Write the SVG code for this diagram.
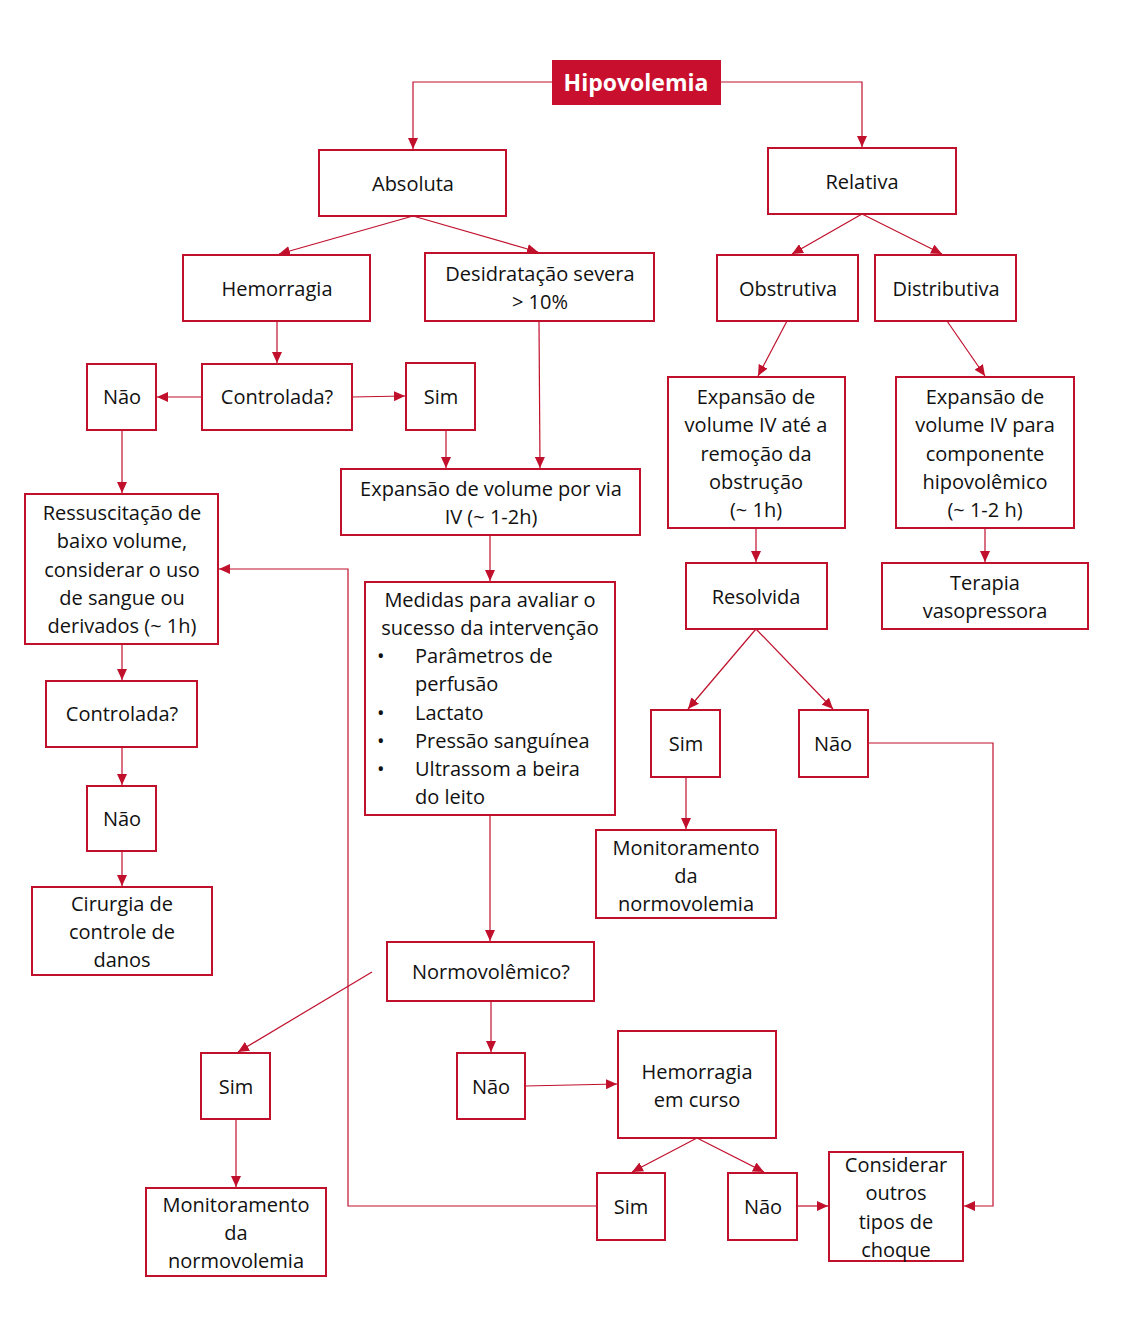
<svg xmlns="http://www.w3.org/2000/svg" width="1147" height="1320" viewBox="0 0 1147 1320">
<style>
.n{fill:#fff;stroke:#C0102C;stroke-width:2}
.t{font-family:"Open Sans","Noto Sans","DejaVu Sans",sans-serif;font-size:20px;fill:#111;text-anchor:middle}
.l{font-family:"Open Sans","Noto Sans","DejaVu Sans",sans-serif;font-size:20px;fill:#111}
.c{fill:none;stroke:#C0102C;stroke-width:1.2}
</style>
<defs>
<marker id="a" markerUnits="userSpaceOnUse" markerWidth="12" markerHeight="10" refX="11" refY="5" orient="auto">
<path d="M0,0 L11,5 L0,10 z" fill="#C0102C"/>
</marker>
</defs>
<rect width="1147" height="1320" fill="#fff"/>
<g id="connectors">
<path class="c" d="M552,82 H413 V149" marker-end="url(#a)"/>
<path class="c" d="M721,82 H862 V147" marker-end="url(#a)"/>
<path class="c" d="M413,216 L279,254" marker-end="url(#a)"/>
<path class="c" d="M413,216 L538,252" marker-end="url(#a)"/>
<path class="c" d="M862,214 L792,254" marker-end="url(#a)"/>
<path class="c" d="M862,214 L942,254" marker-end="url(#a)"/>
<path class="c" d="M277,321 V363" marker-end="url(#a)"/>
<path class="c" d="M202,397 H157" marker-end="url(#a)"/>
<path class="c" d="M352,397 L405,396" marker-end="url(#a)"/>
<path class="c" d="M539,321 L540,468" marker-end="url(#a)"/>
<path class="c" d="M446,430 V468" marker-end="url(#a)"/>
<path class="c" d="M122,430 V493" marker-end="url(#a)"/>
<path class="c" d="M490,535 V581" marker-end="url(#a)"/>
<path class="c" d="M122,644 V680" marker-end="url(#a)"/>
<path class="c" d="M122,747 V785" marker-end="url(#a)"/>
<path class="c" d="M122,851 V886" marker-end="url(#a)"/>
<path class="c" d="M490,815 V941" marker-end="url(#a)"/>
<path class="c" d="M372,972 L238,1052" marker-end="url(#a)"/>
<path class="c" d="M491,1001 V1052" marker-end="url(#a)"/>
<path class="c" d="M236,1119 V1187" marker-end="url(#a)"/>
<path class="c" d="M525,1086 L617,1084" marker-end="url(#a)"/>
<path class="c" d="M697,1138 L632,1172" marker-end="url(#a)"/>
<path class="c" d="M697,1138 L764,1172" marker-end="url(#a)"/>
<path class="c" d="M597,1206 H348 V569 H219" marker-end="url(#a)"/>
<path class="c" d="M797,1206 H828" marker-end="url(#a)"/>
<path class="c" d="M787,321 L758,376" marker-end="url(#a)"/>
<path class="c" d="M947,321 L985,376" marker-end="url(#a)"/>
<path class="c" d="M756,528 V562" marker-end="url(#a)"/>
<path class="c" d="M985,528 V562" marker-end="url(#a)"/>
<path class="c" d="M756,629 L688,709" marker-end="url(#a)"/>
<path class="c" d="M756,629 L833,709" marker-end="url(#a)"/>
<path class="c" d="M686,777 V829" marker-end="url(#a)"/>
<path class="c" d="M868,743 H993 V1206 H964" marker-end="url(#a)"/>
</g>
<g id="hipovolemia">
<rect x="552" y="60" width="169" height="45" fill="#C8102E"/>
<text x="636" y="91" class="t" style="fill:#fff;font-weight:bold;font-size:23px">Hipovolemia</text>
</g>
<g id="absoluta"><rect class="n" x="319" y="150" width="187" height="66"/><text class="t" x="413" y="191">Absoluta</text></g>
<g id="relativa"><rect class="n" x="768" y="148" width="188" height="66"/><text class="t" x="862" y="189">Relativa</text></g>
<g id="hemorragia"><rect class="n" x="183" y="255" width="187" height="66"/><text class="t" x="277" y="296">Hemorragia</text></g>
<g id="desidratacao"><rect class="n" x="425" y="253" width="229" height="68"/><text class="t" x="540" y="281">Desidratação severa</text><text class="t" x="540" y="309">&gt; 10%</text></g>
<g id="obstrutiva"><rect class="n" x="717" y="255" width="141" height="66"/><text class="t" x="788" y="296">Obstrutiva</text></g>
<g id="distributiva"><rect class="n" x="875" y="255" width="141" height="66"/><text class="t" x="946" y="296">Distributiva</text></g>
<g id="controlada1"><rect class="n" x="202" y="364" width="150" height="66"/><text class="t" x="277" y="404">Controlada?</text></g>
<g id="nao1"><rect class="n" x="87" y="364" width="69" height="66"/><text class="t" x="122" y="404">Não</text></g>
<g id="sim1"><rect class="n" x="406" y="363" width="69" height="67"/><text class="t" x="441" y="404">Sim</text></g>
<g id="expansao-iv"><rect class="n" x="341" y="469" width="299" height="66"/><text class="t" x="491" y="496">Expansão de volume por via</text><text class="t" x="491" y="524">IV (~ 1-2h)</text></g>
<g id="ressuscitacao"><rect class="n" x="25" y="494" width="193" height="150"/>
<text class="t" x="122" y="520">Ressuscitação de</text><text class="t" x="122" y="548">baixo volume,</text><text class="t" x="122" y="577">considerar o uso</text><text class="t" x="122" y="605">de sangue ou</text><text class="t" x="122" y="633">derivados (~ 1h)</text></g>
<g id="medidas"><rect class="n" x="365" y="582" width="250" height="233"/>
<text class="t" x="490" y="607">Medidas para avaliar o</text><text class="t" x="490" y="635">sucesso da intervenção</text>
<text class="l" x="377" y="663">•</text><text class="l" x="415" y="663">Parâmetros de</text>
<text class="l" x="415" y="691">perfusão</text>
<text class="l" x="377" y="720">•</text><text class="l" x="415" y="720">Lactato</text>
<text class="l" x="377" y="748">•</text><text class="l" x="415" y="748">Pressão sanguínea</text>
<text class="l" x="377" y="776">•</text><text class="l" x="415" y="776">Ultrassom a beira</text>
<text class="l" x="415" y="804">do leito</text></g>
<g id="controlada2"><rect class="n" x="46" y="681" width="151" height="66"/><text class="t" x="122" y="721">Controlada?</text></g>
<g id="nao2"><rect class="n" x="87" y="786" width="69" height="65"/><text class="t" x="122" y="826">Não</text></g>
<g id="cirurgia"><rect class="n" x="32" y="887" width="180" height="88"/><text class="t" x="122" y="911">Cirurgia de</text><text class="t" x="122" y="939">controle de</text><text class="t" x="122" y="967">danos</text></g>
<g id="normovolemico"><rect class="n" x="387" y="942" width="207" height="59"/><text class="t" x="491" y="979">Normovolêmico?</text></g>
<g id="sim2"><rect class="n" x="201" y="1053" width="69" height="66"/><text class="t" x="236" y="1094">Sim</text></g>
<g id="nao3"><rect class="n" x="457" y="1053" width="68" height="66"/><text class="t" x="491" y="1094">Não</text></g>
<g id="monitoramento1"><rect class="n" x="146" y="1188" width="180" height="88"/><text class="t" x="236" y="1212">Monitoramento</text><text class="t" x="236" y="1240">da</text><text class="t" x="236" y="1268">normovolemia</text></g>
<g id="hemorragia-curso"><rect class="n" x="618" y="1031" width="158" height="107"/><text class="t" x="697" y="1079">Hemorragia</text><text class="t" x="697" y="1107">em curso</text></g>
<g id="sim3"><rect class="n" x="597" y="1173" width="68" height="67"/><text class="t" x="631" y="1214">Sim</text></g>
<g id="nao4"><rect class="n" x="728" y="1173" width="69" height="67"/><text class="t" x="763" y="1214">Não</text></g>
<g id="considerar"><rect class="n" x="829" y="1152" width="134" height="109"/><text class="t" x="896" y="1172">Considerar</text><text class="t" x="896" y="1200">outros</text><text class="t" x="896" y="1229">tipos de</text><text class="t" x="896" y="1257">choque</text></g>
<g id="expansao-obstrucao"><rect class="n" x="668" y="377" width="177" height="151"/>
<text class="t" x="756" y="404">Expansão de</text><text class="t" x="756" y="432">volume IV até a</text><text class="t" x="756" y="461">remoção da</text><text class="t" x="756" y="489">obstrução</text><text class="t" x="756" y="517">(~ 1h)</text></g>
<g id="expansao-hipovolemico"><rect class="n" x="896" y="377" width="178" height="151"/>
<text class="t" x="985" y="404">Expansão de</text><text class="t" x="985" y="432">volume IV para</text><text class="t" x="985" y="461">componente</text><text class="t" x="985" y="489">hipovolêmico</text><text class="t" x="985" y="517">(~ 1-2 h)</text></g>
<g id="resolvida"><rect class="n" x="686" y="563" width="141" height="66"/><text class="t" x="756" y="604">Resolvida</text></g>
<g id="terapia"><rect class="n" x="882" y="563" width="206" height="66"/><text class="t" x="985" y="590">Terapia</text><text class="t" x="985" y="618">vasopressora</text></g>
<g id="sim4"><rect class="n" x="651" y="710" width="69" height="67"/><text class="t" x="686" y="751">Sim</text></g>
<g id="nao5"><rect class="n" x="799" y="710" width="69" height="67"/><text class="t" x="833" y="751">Não</text></g>
<g id="monitoramento2"><rect class="n" x="596" y="830" width="180" height="88"/><text class="t" x="686" y="855">Monitoramento</text><text class="t" x="686" y="883">da</text><text class="t" x="686" y="911">normovolemia</text></g>
</svg>
